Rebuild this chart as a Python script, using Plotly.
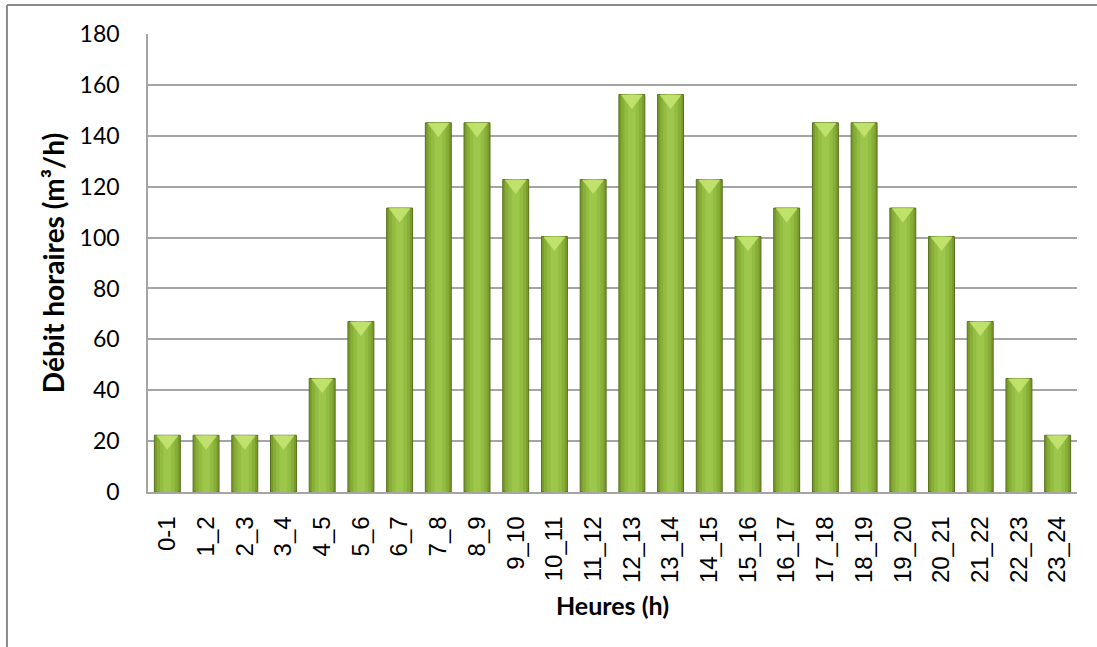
import plotly.graph_objects as go

categories = ["0-1", "1_2", "2_3", "3_4", "4_5", "5_6", "6_7", "7_8", "8_9", "9_10",
              "10_11", "11_12", "12_13", "13_14", "14_15", "15_16", "16_17", "17_18",
              "18_19", "19_20", "20_21", "21_22", "22_23", "23_24"]
debit = [22.3, 22.3, 22.3, 22.3, 44.6, 67.0, 111.6, 145.1, 145.1, 122.8,
         100.4, 122.8, 156.2, 156.2, 122.8, 100.4, 111.6, 145.1, 145.1, 111.6,
         100.4, 67.0, 44.6, 22.3]
y_ticks = [0, 20, 40, 60, 80, 100, 120, 140, 160, 180]

fig = go.Figure()

# layered bars to imitate the horizontal gradient of the Excel bars
layers = [
    (0.67, "#7a9a2c", dict(color="#55701c", width=1)),
    (0.54, "#87ae36", dict(width=0)),
    (0.38, "#93bd42", dict(width=0)),
    (0.20, "#9cc74b", dict(width=0)),
]
for w, c, ln in layers:
    fig.add_trace(go.Bar(x=categories, y=debit, width=w, marker=dict(color=c, line=ln),
                         hoverinfo="skip", showlegend=False))

# bevel highlight at the top of each bar
fig.add_trace(go.Scatter(
    x=categories, y=debit, mode="markers", hoverinfo="skip", showlegend=False,
    marker=dict(symbol="triangle-down", size=19, standoff=5,
                color="rgba(196,228,112,0.9)", line=dict(width=0)),
    cliponaxis=False,
))

grid = "#a5a5a5"
fig.update_layout(
    width=1097, height=647,
    margin=dict(l=148, r=20, t=34, b=155),
    paper_bgcolor="white", plot_bgcolor="white",
    barmode="overlay",
    showlegend=False,
    xaxis=dict(
        type="category", range=[-0.5, len(categories) - 0.5], autorange=False,
        tickangle=-90, showgrid=False, ticks="",
        showline=True, linecolor=grid, linewidth=1.5,
        tickfont=dict(family="Liberation Sans, Arial", size=24, color="black"),
        ticklabelstandoff=13,
        title=dict(text="<b>Heures (h)</b>", standoff=15,
                   font=dict(family="Lato, Calibri", size=25, color="black")),
    ),
    yaxis=dict(
        range=[0, 180], autorange=False, tickvals=y_ticks, ticks="",
        showgrid=True, gridcolor=grid, gridwidth=1.5,
        showline=True, linecolor=grid, linewidth=1.5,
        zeroline=False,
        tickfont=dict(family="Lato, Calibri", size=23, color="black"),
        ticklabelstandoff=22,
        title=dict(text="<b>Débit horaires (m³/h)</b>", standoff=7,
                   font=dict(family="Lato, Calibri", size=28, color="black")),
    ),
    shapes=[
        dict(type="line", xref="paper", yref="paper", x0=-0.1518, x1=1.0215,
             y0=1.0633, y1=1.0633, line=dict(color="#8c8c8c", width=2)),
        dict(type="line", xref="paper", yref="paper", x0=-0.1518, x1=-0.1518,
             y0=1.0633, y1=-0.34, line=dict(color="#8c8c8c", width=2)),
    ],
)

fig.write_html("out.html")
